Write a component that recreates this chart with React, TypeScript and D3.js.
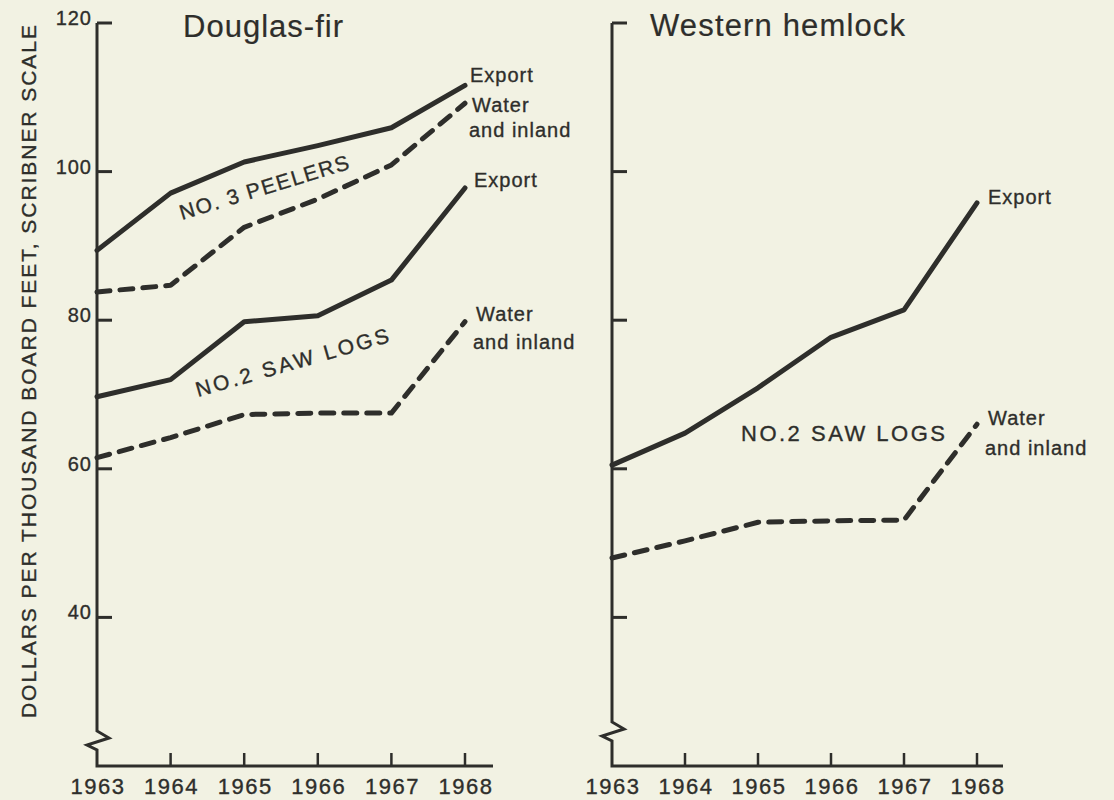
import React from 'react';
import * as d3 from 'd3';

// years on both panels
const years = [1963, 1964, 1965, 1966, 1967, 1968];
const yTicks = [120, 100, 80, 60, 40];

// Douglas-fir, dollars per thousand board feet
const dfPeelerExport = [89.4, 97.1, 101.3, 103.5, 105.9, 111.6];
const dfPeelerWater = [83.8, 84.7, 92.5, 96.3, 100.9, 109.2];
const dfSawExport = [69.7, 72.0, 79.8, 80.6, 85.4, 97.8];
const dfSawWater = [61.5, 64.2, 67.3, 67.5, 67.5, 79.8];

// Western hemlock
const whSawExport = [60.5, 64.8, 70.9, 77.7, 81.4, 95.8];
const whSawWater = [48.0, 50.3, 52.8, 53.0, 53.1, 66.0];

const ink = '#2e2e2b';
const bg = '#f2f2e3';
const font = "'Liberation Sans', Arial, Helvetica, sans-serif";

const y = d3.scaleLinear().domain([20, 120]).range([766, 23]);
const xLeft = d3.scaleLinear().domain([1963, 1968]).range([97, 465]);
const xRight = d3.scaleLinear().domain([1963, 1968]).range([612, 977]);

// slightly heavier text, like the printed original
const txt = { fill: ink, fontFamily: font, stroke: ink, strokeWidth: 0.35 };

type Series = {
  values: number[];
  dashed: boolean;
  label: string[];
  dx: number;
  dy: number;
  lineGap: number;
};

const Panel = ({
  x,
  axisEnd,
  breakTop,
  tickLabels,
  series,
}: {
  x: d3.ScaleLinear<number, number>;
  axisEnd: number;
  breakTop: number;
  tickLabels: boolean;
  series: Series[];
}) => {
  const ax = x(1963);
  const bottom = y(20);
  const line = d3
    .line<number>()
    .x((_, i) => x(years[i]))
    .y((d) => y(d));

  // axis with the little break near the bottom
  const axisPath =
    `M${ax},${y(120)} V${breakTop} L${ax + 12},${breakTop + 7} ` +
    `L${ax - 10},${breakTop + 14} L${ax},${breakTop + 19} V${bottom} H${axisEnd}`;

  return (
    <g>
      <path d={axisPath} fill="none" stroke={ink} strokeWidth={3} strokeLinejoin="miter" />
      {yTicks.map((t) => (
        <g key={t}>
          <line x1={ax} x2={ax + 15} y1={y(t)} y2={y(t)} stroke={ink} strokeWidth={3} />
          {tickLabels && (
            <text x={ax - 5} y={y(t) + 2} textAnchor="end" fontSize={20} letterSpacing={1} {...txt}>
              {t}
            </text>
          )}
        </g>
      ))}
      {years.map((yr) => (
        <g key={yr}>
          {yr !== 1963 && (
            <line x1={x(yr)} x2={x(yr)} y1={bottom} y2={bottom - 13} stroke={ink} strokeWidth={2.5} />
          )}
          <text x={x(yr) + 1} y={794} textAnchor="middle" fontSize={22} letterSpacing={1.5} {...txt}>
            {yr}
          </text>
        </g>
      ))}
      {series.map((s, i) => {
        const last = s.values[s.values.length - 1];
        return (
          <g key={i}>
            <path
              d={line(s.values) || ''}
              fill="none"
              stroke={ink}
              strokeWidth={5}
              strokeLinejoin="round"
              strokeLinecap="round"
              strokeDasharray={s.dashed ? '13 10' : undefined}
            />
            {s.label.map((l, j) => (
              <text
                key={j}
                x={x(1968) + s.dx - (j > 0 ? 3 : 0)}
                y={y(last) + s.dy + j * s.lineGap}
                fontSize={20}
                letterSpacing={1}
                {...txt}
              >
                {l}
              </text>
            ))}
          </g>
        );
      })}
    </g>
  );
};

export default function App() {
  return (
    <svg
      width={1114}
      height={800}
      style={{ position: 'absolute', left: 0, top: 0, background: bg }}
    >
      <rect width={1114} height={800} fill={bg} />
      <text
        transform="translate(36,718) rotate(-90)"
        fontSize={21}
        textLength={693}
        lengthAdjust="spacing"
        {...txt}
      >
        DOLLARS PER THOUSAND BOARD FEET, SCRIBNER SCALE
      </text>

      <text x={183} y={37} fontSize={31} textLength={160} lengthAdjust="spacing" {...txt} strokeWidth={0.2}>
        Douglas-fir
      </text>
      <text x={650} y={36} fontSize={31} textLength={255} lengthAdjust="spacing" {...txt} strokeWidth={0.2}>
        Western hemlock
      </text>

      <Panel
        x={xLeft}
        axisEnd={493}
        breakTop={731}
        tickLabels={true}
        series={[
          { values: dfPeelerExport, dashed: false, label: ['Export'], dx: 5, dy: -3, lineGap: 0 },
          { values: dfPeelerWater, dashed: true, label: ['Water', 'and inland'], dx: 7, dy: 9, lineGap: 25 },
          { values: dfSawExport, dashed: false, label: ['Export'], dx: 9, dy: -1, lineGap: 0 },
          { values: dfSawWater, dashed: true, label: ['Water', 'and inland'], dx: 11, dy: -1, lineGap: 28 },
        ]}
      />
      <Panel
        x={xRight}
        axisEnd={1003}
        breakTop={722}
        tickLabels={false}
        series={[
          { values: whSawExport, dashed: false, label: ['Export'], dx: 11, dy: 1, lineGap: 0 },
          { values: whSawWater, dashed: true, label: ['Water', 'and inland'], dx: 11, dy: 1, lineGap: 30 },
        ]}
      />

      <text
        transform="translate(182,220) rotate(-17)"
        fontSize={21}
        textLength={176}
        lengthAdjust="spacing"
        {...txt}
      >
        NO. 3 PEELERS
      </text>
      <text
        transform="translate(198,397) rotate(-16)"
        fontSize={21}
        textLength={200}
        lengthAdjust="spacing"
        {...txt}
      >
        NO.2 SAW LOGS
      </text>
      <text x={741} y={441} fontSize={22} textLength={204} lengthAdjust="spacing" {...txt}>
        NO.2 SAW LOGS
      </text>
    </svg>
  );
}
